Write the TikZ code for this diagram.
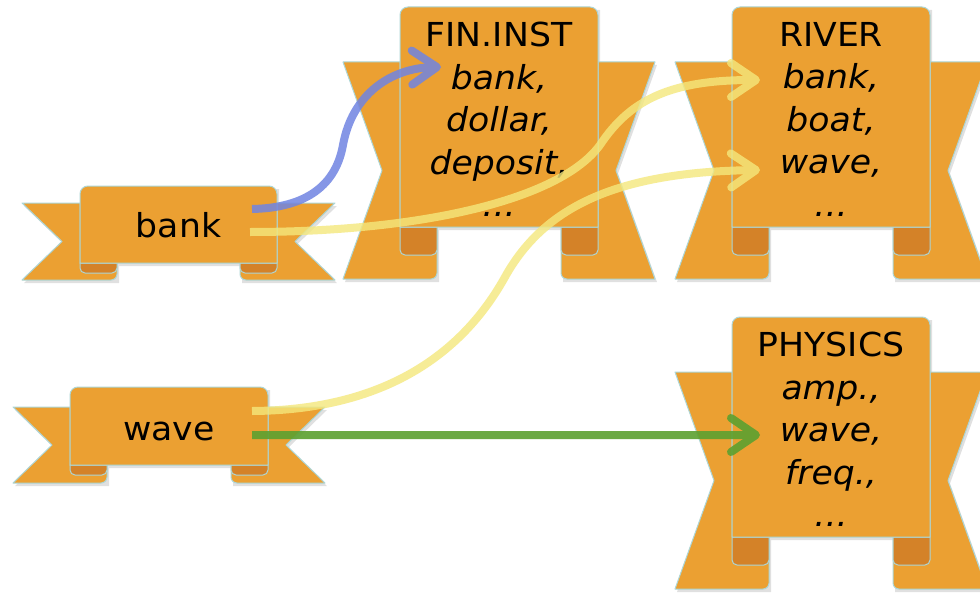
\documentclass[tikz,border=0pt]{standalone}
\usepackage{fontspec}
\setmainfont{DejaVu Sans}[FakeStretch=1.05]
\usetikzlibrary{arrows.meta}
\definecolor{ribo}{RGB}{235,160,50}
\definecolor{ribd}{RGB}{212,130,40}
\definecolor{ribl}{RGB}{172,214,214}
\definecolor{arblue}{RGB}{112,132,226}
\definecolor{aryel}{RGB}{244,232,124}
\definecolor{argreen}{RGB}{92,160,48}
\tikzset{
  rib/.style={fill=ribo, draw=ribl, line width=1pt, line join=round},
  ribfold/.style={fill=ribd, draw=ribl, line width=1pt, line join=round},
  ribshadow/.style={fill=black, opacity=0.12, draw=none},
  lbl/.style={font=\fontsize{33}{42.5}\selectfont, inner sep=0pt, text=black, align=center},
  conn/.style={line width=8pt, -{Straight Barb[length=25pt,width=34pt,round]}},
}
% #1 x0, #2 y0, #3 W, #4 H, #5 tail top, #6 bottom, #7 tail width, #8 notch, #9 fold height
\newcommand\ribbon[9]{%
 \begin{scope}[shift={(#1+2,#2+3)}]
  \fill[ribshadow] (-#7,#5) -- (0,#5) -- (0,0) -- (#3,0) -- (#3,#5) -- (#3+#7,#5) -- ({#3+#7-#8},{(#5+#6)/2}) -- (#3+#7,#6) -- (#3-37,#6) -- (#3-37,#4) -- (37,#4) -- (37,#6) -- (-#7,#6) -- ({-#7+#8},{(#5+#6)/2}) -- cycle;
 \end{scope}
 \begin{scope}[shift={(#1,#2)}]
  \filldraw[rib] (-#7,#5) -- (0,#5) -- (0,#4) -- (37,#4) -- (37,#6-6) to[out=-90,in=0] (31,#6) -- (-#7,#6) -- ({-#7+#8},{(#5+#6)/2}) -- cycle;
  \filldraw[rib] (#3+#7,#5) -- (#3,#5) -- (#3,#4) -- (#3-37,#4) -- (#3-37,#6-6) to[out=-90,in=180] (#3-31,#6) -- (#3+#7,#6) -- ({#3+#7-#8},{(#5+#6)/2}) -- cycle;
  \filldraw[ribfold] (0,#4) -- (0,#4+#9-5) to[out=-90,in=180] (5,#4+#9) -- (32,#4+#9) to[out=0,in=-90] (37,#4+#9-5) -- (37,#4) -- cycle;
  \filldraw[ribfold] (#3,#4) -- (#3,#4+#9-5) to[out=-90,in=0] (#3-5,#4+#9) -- (#3-32,#4+#9) to[out=180,in=-90] (#3-37,#4+#9-5) -- (#3-37,#4) -- cycle;
  \filldraw[rib] (0,#4) -- (0,8) to[out=90,in=180] (8,0) -- (#3-8,0) to[out=0,in=90] (#3,8) -- (#3,#4) -- cycle;
 \end{scope}}
\begin{document}
\begin{tikzpicture}[x=1pt,y=-1pt]
\fill[white] (0,0) rectangle (980,594);
\useasboundingbox (0,0) rectangle (980,594);
% ribbons
\ribbon{80}{186}{197}{77}{17}{94}{58}{40}{10}
\ribbon{70}{387}{198}{78}{20}{96}{57}{39}{10}
\ribbon{400}{7}{198}{220}{55}{272}{57}{39}{28}
\ribbon{732}{7}{198}{220}{55}{272}{57}{39}{28}
\ribbon{732}{317}{198}{220}{55}{272}{57}{39}{28}
% texts
\node[lbl, anchor=base] (bank) at (178.5,237) {bank};
\node[lbl, anchor=base] (wave) at (169,440) {wave};
\node[lbl, anchor=north] (fin) at (499,22) {FIN.INST\\\textit{bank,}\\\textit{dollar,}\\\textit{deposit,}\\\textit{...}};
\node[lbl, anchor=north] (river) at (831,22) {RIVER\\\textit{bank,}\\\textit{boat,}\\\textit{wave,}\\\textit{...}};
\node[lbl, anchor=north] (physics) at (831,332) {PHYSICS\\\textit{amp.,}\\\textit{wave,}\\\textit{freq.,}\\\textit{...}};
% connector ends
\coordinate (bankA) at (252,209);
\coordinate (bankB) at (250,232);
\coordinate (waveA) at (252,411);
\coordinate (waveB) at (252,435);
\coordinate (finbank) at (441,67);
\coordinate (riverbank) at (760,80);
\coordinate (riverwave) at (760,170);
\coordinate (physwave) at (760,435);
\coordinate (bmid) at (343,145);
\coordinate (ymidA) at (600,145);
\coordinate (ymidB) at (505,277);
% connectors
\begin{scope}[transparency group, opacity=0.85]
\draw[conn, arblue] (bankA) .. controls (300,208) and (335,190) .. (bmid) .. controls (352,95) and (390,68) .. (finbank);
\end{scope}
\begin{scope}[transparency group, opacity=0.8]
\draw[conn, aryel] (bankB) .. controls (420,232) and (560,200) .. (ymidA) .. controls (630,100) and (670,80) .. (riverbank);
\end{scope}
\begin{scope}[transparency group, opacity=0.8]
\draw[conn, aryel] (waveA) .. controls (400,410) and (470,340) .. (ymidB) .. controls (545,205) and (620,172) .. (riverwave);
\end{scope}
\begin{scope}[transparency group, opacity=0.9]
\draw[conn, argreen] (waveB) -- (physwave);
\end{scope}
\end{tikzpicture}
\end{document}
